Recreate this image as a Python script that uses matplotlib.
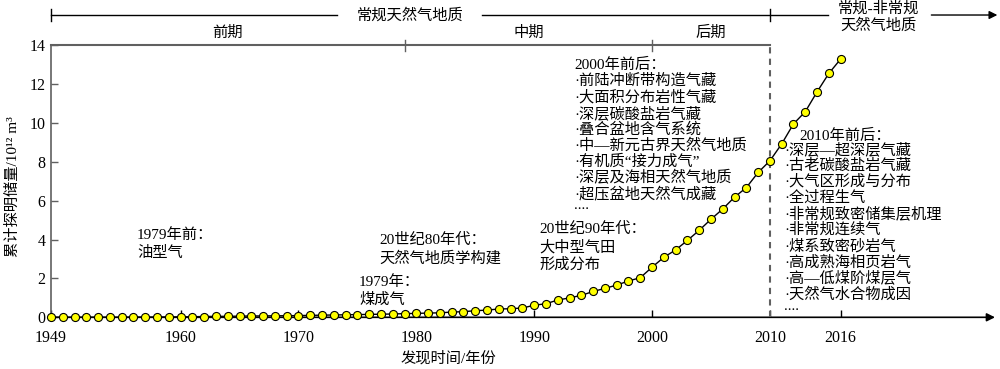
import matplotlib.pyplot as plt

# fonts: serif digits, CJK fallback
plt.rcParams['font.family'] = ['Liberation Serif', 'Noto Sans CJK SC']

# cumulative proven gas reserves, 10^12 m3
years = list(range(1949, 2017))
reserves = [0.00, 0.00, 0.00, 0.00, 0.00, 0.00, 0.00, 0.01, 0.01, 0.01,
            0.02, 0.02, 0.03, 0.04, 0.05, 0.05, 0.06, 0.07, 0.07, 0.08,
            0.08, 0.09, 0.10, 0.11, 0.12, 0.13, 0.14, 0.15, 0.16, 0.17,
            0.19, 0.20, 0.22, 0.23, 0.27, 0.29, 0.34, 0.37, 0.43, 0.44,
            0.48, 0.62, 0.70, 0.89, 1.00, 1.13, 1.33, 1.49, 1.66, 1.87,
            2.04, 2.58, 3.09, 3.47, 3.96, 4.48, 5.05, 5.58, 6.19, 6.68,
            7.46, 8.06, 8.93, 9.96, 10.59, 11.61, 12.56, 13.30]

xticks = [1949, 1960, 1970, 1980, 1990, 2000, 2010, 2016]
yticks = [0, 2, 4, 6, 8, 10, 12, 14]

phase_edges = [1949, 1979, 2000, 2010]
phase_names = ['前期', '中期', '后期']

notes_2000 = ['2000年前后：', '·前陆冲断带构造气藏', '·大面积分布岩性气藏', '·深层碳酸盐岩气藏',
              '·叠合盆地含气系统', '·中—新元古界天然气地质', '·有机质“接力成气”',
              '·深层及海相天然气地质', '·超压盆地天然气成藏', '....']
notes_2010 = ['·深层—超深层气藏', '·古老碳酸盐岩气藏', '·大气区形成与分布', '·全过程生气',
              '·非常规致密储集层机理', '·非常规连续气', '·煤系致密砂岩气', '·高成熟海相页岩气',
              '·高—低煤阶煤层气', '·天然气水合物成因', '....']

W, H = 1000, 369
fig = plt.figure(figsize=(W / 100, H / 100), dpi=100)
ax = fig.add_axes([0.051, 0.1401, 0.944, 0.7366])


def px(x, y):
    # pixel position -> figure fraction
    return x / W, 1 - y / H


gray = '#606060'
fs = 11

ax.plot(years, reserves, color='black', lw=1, marker='o', ms=5.8,
        mfc='#ffff00', mec='black', mew=0.8, clip_on=False, zorder=5)

ax.set_xlim(1949, 2029.1)
ax.set_ylim(0, 14)
ax.set_xticks(xticks)
ax.set_yticks(yticks)
ax.tick_params(direction='in', length=5, width=1, labelsize=11.5, colors='black')
ax.tick_params(axis='x', pad=9)
ax.tick_params(axis='y', pad=4, color=gray)
ax.spines['top'].set_visible(False)
ax.spines['right'].set_visible(False)
ax.spines['bottom'].set_visible(False)
ax.spines['left'].set_color(gray)
ax.spines['left'].set_linewidth(1.2)

# bottom axis with arrow
ax.annotate('', xy=(2029.1, 0), xytext=(1949, 0), xycoords='data',
            arrowprops=dict(arrowstyle='-|>', color='black', lw=1.2,
                            mutation_scale=12, shrinkA=0, shrinkB=0),
            annotation_clip=False, zorder=1)

# phase bracket on top
ax.plot([phase_edges[0], phase_edges[-1]], [14, 14], color=gray, lw=1.5, clip_on=False)
for x in phase_edges[1:-1]:
    ax.plot([x, x], [13.74, 14.26], color=gray, lw=1, clip_on=False)
ax.plot([phase_edges[-1], phase_edges[-1]], [0, 14], color=gray, lw=1.5,
        ls=(0, (3, 2.5)), clip_on=False)
for i, name in enumerate(phase_names):
    ax.text((phase_edges[i] + phase_edges[i + 1]) / 2, 14.64, name,
            ha='center', va='center', fontsize=fs)

# upper era arrow
ytop = 15.57
ax.plot([1949, 1973.3], [ytop, ytop], color='black', lw=1, clip_on=False)
ax.plot([1985.6, 2014.9], [ytop, ytop], color='black', lw=1, clip_on=False)
ax.annotate('', xy=(2029.3, ytop), xytext=(2023.7, ytop), xycoords='data',
            arrowprops=dict(arrowstyle='-|>', color='black', lw=1,
                            mutation_scale=12, shrinkA=0, shrinkB=0),
            annotation_clip=False)
for x in [1949, 2010]:
    ax.plot([x, x], [ytop - 0.29, ytop + 0.29], color='black', lw=1, clip_on=False)
ax.text(1979.5, ytop, '常规天然气地质', ha='center', va='center', fontsize=fs)
fig.text(*px(878, 9), '常规-非常规', ha='center', va='center', fontsize=fs)
fig.text(*px(878, 26), '天然气地质', ha='center', va='center', fontsize=fs)

# annotations
step = 16.1
for i, line in enumerate(notes_2000):
    yy = 65 + i * step
    if line == '....':
        yy -= 4
    fig.text(*px(574, yy), line, ha='left', va='center', fontsize=fs)

fig.text(*px(799, 136), '2010年前后：', ha='left', va='center', fontsize=fs)
for i, line in enumerate(notes_2010):
    yy = 149.5 + i * step
    if line == '....':
        yy -= 4
    fig.text(*px(784, yy), line, ha='left', va='center', fontsize=fs)

small_notes = [
    (137, 235, ['1979年前：', '油型气']),
    (379, 240, ['20世纪80年代：', '天然气地质学构建']),
    (359, 282, ['1979年：', '煤成气']),
    (539, 229, ['20世纪90年代：', '大中型气田', '形成分布']),
]
for x0, y0, lines in small_notes:
    for i, line in enumerate(lines):
        fig.text(*px(x0, y0 + i * 18), line, ha='left', va='center', fontsize=fs)

# axis labels
fig.text(*px(13, 187), '累计探明储量/10¹² m³', rotation=90, ha='center', va='center', fontsize=fs)
fig.text(*px(448, 358), '发现时间/年份', ha='center', va='center', fontsize=fs)

fig.savefig('out.png', dpi=100)
